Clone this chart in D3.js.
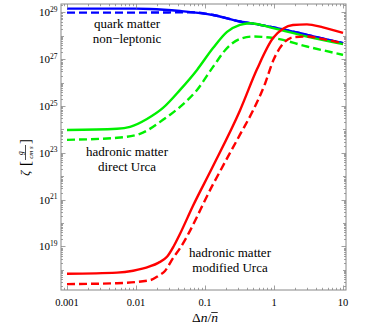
<!DOCTYPE html>
<html>
<head>
<meta charset="utf-8">
<script src="https://cdn.jsdelivr.net/npm/d3@7"></script>
<style>
  body { margin: 0; background: #fff; }
  svg text { font-family: "Liberation Serif", "DejaVu Serif", serif; }
</style>
</head>
<body>
<svg id="chart" width="365" height="328"></svg>
<script>
// Δn/n̄ sample positions and ζ values (g / cm s)
var quarkX      = [0.001, 0.01, 0.0158, 0.0435, 0.1306, 0.321, 0.627, 1.35, 3.0, 10];
var quarkSolid  = [1.45e29, 1.45e29, 1.41e29, 1.15e29, 7.8e28, 4.1e28, 2.95e28, 1.9e28, 1.1e28, 4.8e27];
var quarkDashX  = [0.001, 0.01, 0.03, 0.06, 0.1306, 0.321, 0.627, 1.35, 3.0, 10];
var quarkDashed = [9.8e28, 9.8e28, 1.0e29, 1.02e29, 7.8e28, 4.1e28, 2.95e28, 1.9e28, 1.1e28, 4.8e27];

var directX      = [0.001, 0.0053, 0.0082, 0.0144, 0.0246, 0.0435, 0.0766, 0.1306, 0.2084, 0.321, 0.449, 0.968, 3.0, 10];
var directSolid  = [9.5e23, 1.07e24, 1.29e24, 2.8e24, 8.3e24, 4.9e25, 3.5e26, 3.0e27, 1.48e28, 2.95e28, 3.47e28, 2.14e28, 9.3e27, 4.4e27];
var directDashX  = [0.001, 0.0053, 0.0114, 0.0246, 0.0435, 0.0766, 0.1306, 0.2084, 0.321, 0.497, 0.968, 3.0, 10];
var directDashed = [3.6e23, 4.4e23, 6.5e23, 2.57e24, 9.3e24, 4.9e25, 4.7e26, 3.0e27, 7.4e27, 9.3e27, 8.1e27, 3.5e27, 1.54e27];

var modX      = [0.001, 0.0053, 0.0091, 0.0158, 0.021, 0.0281, 0.035, 0.0435, 0.067, 0.126, 0.321, 0.568, 0.968, 1.35, 1.88, 3.0, 5.13, 10];
var modSolid  = [6.8e17, 7.6e17, 9.2e17, 1.4e18, 2.0e18, 3.6e18, 1.0e19, 3.5e19, 5.5e20, 2.2e22, 6.5e24, 3.8e26, 8.0e27, 2.0e28, 2.9e28, 3.1e28, 2.3e28, 1.33e28];
var modDashX  = [0.001, 0.0053, 0.0158, 0.021, 0.0263, 0.034, 0.0435, 0.1306, 0.321, 0.497, 0.741, 0.977, 1.36, 1.91, 2.98, 5.18, 10];
var modDashed = [2.47e17, 2.7e17, 3.6e17, 5.5e17, 9.0e17, 3.0e18, 8.5e18, 4.5e21, 6.0e23, 6.5e24, 9.0e25, 9.0e26, 4.7e27, 8.7e27, 9.3e27, 7.2e27, 4.8e27];

var xTickValues = [0.001, 0.01, 0.1, 1, 10];
var xTickLabels = ["0.001", "0.01", "0.1", "1", "10"];
var yTickExponents = [19, 21, 23, 25, 27, 29];

var series = [
  {x: quarkX, y: quarkSolid, color: "#0000ff", dash: null},
  {x: quarkDashX, y: quarkDashed, color: "#0000ff", dash: "8,4"},
  {x: directX, y: directSolid, color: "#00f000", dash: null},
  {x: directDashX, y: directDashed, color: "#00f000", dash: "8,4"},
  {x: modX, y: modSolid, color: "#ff0000", dash: null},
  {x: modDashX, y: modDashed, color: "#ff0000", dash: "8,4"}
];

var labels = [
  {x: 127, y: 28, lines: ["quark matter", "non\u2212leptonic"]},
  {x: 127, y: 156, lines: ["hadronic matter", "direct Urca"]},
  {x: 230, y: 257, lines: ["hadronic matter", "modified Urca"]}
];

var plotLeft = 61, plotRight = 346, plotTop = 4, plotBottom = 290;

var x = d3.scaleLog()
    .domain([Math.pow(10, -3.087), Math.pow(10, 1.043)])
    .range([plotLeft, plotRight]);
var y = d3.scaleLog()
    .domain([Math.pow(10, 17.14), Math.pow(10, 29.36)])
    .range([plotBottom, plotTop]);

var svg = d3.select("#chart");

svg.append("defs").append("clipPath")
    .attr("id", "clip")
  .append("rect")
    .attr("x", plotLeft).attr("y", plotTop)
    .attr("width", plotRight - plotLeft).attr("height", plotBottom - plotTop);

// curves
var line = d3.line()
    .x(d => x(d[0]))
    .y(d => y(d[1]))
    .curve(d3.curveMonotoneX);

svg.append("g")
    .attr("clip-path", "url(#clip)")
  .selectAll("path")
  .data(series)
  .enter().append("path")
    .attr("d", d => line(d.x.map((v, i) => [v, d.y[i]])))
    .style("fill", "none")
    .style("stroke", d => d.color)
    .style("stroke-width", 2.4)
    .style("stroke-dasharray", d => d.dash);

// frame
svg.append("rect")
    .attr("x", plotLeft).attr("y", plotTop)
    .attr("width", plotRight - plotLeft).attr("height", plotBottom - plotTop)
    .style("fill", "none")
    .style("stroke", "#888")
    .style("stroke-width", 1);

// ticks
var xMinor = [], yMinor = [];
for (var k = -4; k <= 1; k++) {
  for (var m = 1; m <= 9; m++) {
    var v = m * Math.pow(10, k);
    if (v >= x.domain()[0] && v <= x.domain()[1]) xMinor.push({v: v, major: m === 1});
  }
}
for (var k = 17; k <= 29; k++) {
  for (var m = 1; m <= 9; m++) {
    var v = m * Math.pow(10, k);
    if (v >= y.domain()[0] && v <= y.domain()[1]) yMinor.push({v: v, major: m === 1 && k % 2 === 1, mid: m === 1});
  }
}

var ticks = svg.append("g").style("stroke", "#888").style("stroke-width", 0.8);
xMinor.forEach(function(t) {
  var len = t.major ? 4.5 : 2.2;
  var px = Math.round(x(t.v)) + 0.5;
  ticks.append("line").attr("x1", px).attr("x2", px).attr("y1", plotBottom).attr("y2", plotBottom - len);
  ticks.append("line").attr("x1", px).attr("x2", px).attr("y1", plotTop).attr("y2", plotTop + len);
});
yMinor.forEach(function(t) {
  var len = t.major ? 4.5 : (t.mid ? 3 : 2);
  var py = Math.round(y(t.v)) + 0.5;
  ticks.append("line").attr("y1", py).attr("y2", py).attr("x1", plotLeft).attr("x2", plotLeft + len);
  ticks.append("line").attr("y1", py).attr("y2", py).attr("x1", plotRight).attr("x2", plotRight - len);
});

// x tick labels
svg.append("g").selectAll("text")
  .data(xTickValues)
  .enter().append("text")
    .attr("x", d => x(d))
    .attr("y", 305.5)
    .attr("text-anchor", "middle")
    .style("font-size", "10.5px")
    .text((d, i) => xTickLabels[i]);

// y tick labels
var yl = svg.append("g").selectAll("text")
  .data(yTickExponents)
  .enter().append("text")
    .attr("x", 57.5)
    .attr("y", d => y(Math.pow(10, d)) + 4)
    .attr("text-anchor", "end")
    .style("font-size", "11px");
yl.append("tspan").text("10");
yl.append("tspan").attr("dy", -4.5).style("font-size", "7.5px").text(d => d);

// x axis title
var xt = svg.append("text")
    .attr("x", 205)
    .attr("y", 322)
    .attr("text-anchor", "middle")
    .style("font-size", "13.5px");
xt.append("tspan").text("\u0394");
xt.append("tspan").style("font-style", "italic").text("n");
xt.append("tspan").text("/");
xt.append("tspan").style("font-style", "italic").text("n");
var bb = xt.node().getBBox();
svg.append("line")
    .attr("x1", bb.x + bb.width - 7).attr("x2", bb.x + bb.width - 0.5)
    .attr("y1", 312.5).attr("y2", 312.5)
    .style("stroke", "#000").style("stroke-width", 0.8);

// y axis title (rotated)
var yt = svg.append("g").attr("transform", "translate(25,176) rotate(-90)");
yt.append("text").attr("x", 0).attr("y", 4).style("font-style", "italic").style("font-size", "13px").text("\u03b6");
yt.append("text").attr("x", 10).attr("y", 5).style("font-size", "15px").text("[");
yt.append("text").attr("x", 23).attr("y", -2).attr("text-anchor", "middle").style("font-style", "italic").style("font-size", "7.5px").text("g");
yt.append("line").attr("x1", 16).attr("x2", 31).attr("y1", 0.5).attr("y2", 0.5).style("stroke", "#000").style("stroke-width", 0.7);
yt.append("text").attr("x", 23.5).attr("y", 7.5).attr("text-anchor", "middle").style("font-style", "italic").style("font-size", "7px").text("cm s");
yt.append("text").attr("x", 32).attr("y", 5).style("font-size", "15px").text("]");

// curve labels
labels.forEach(function(l) {
  var t = svg.append("text")
      .attr("text-anchor", "middle")
      .style("font-size", "13px");
  l.lines.forEach(function(s, i) {
    t.append("tspan").attr("x", l.x).attr("y", l.y + i * 15).text(s);
  });
});
</script>
</body>
</html>
